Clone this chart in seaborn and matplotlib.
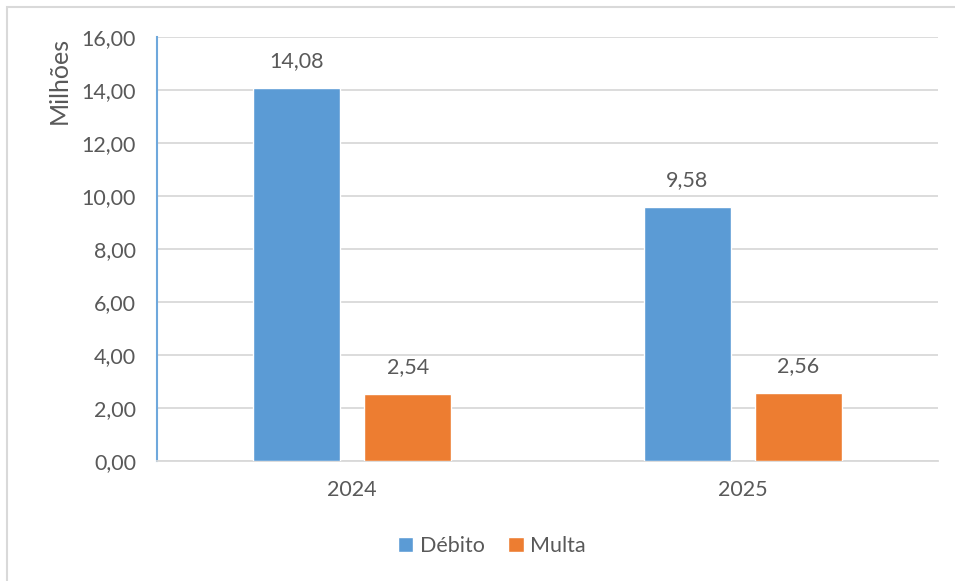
import pandas as pd
import matplotlib.pyplot as plt
import seaborn as sns
from matplotlib.patches import Rectangle

anos = ["2024", "2025"]
debito = [14.08, 9.58]
multa = [2.54, 2.56]
series = ["Débito", "Multa"]
yticks = [0, 2, 4, 6, 8, 10, 12, 14, 16]

df = pd.DataFrame({
    "Ano": anos * 2,
    "Tipo": ["Débito"] * len(anos) + ["Multa"] * len(anos),
    "Valor": debito + multa,
})

sns.set_style("white")
plt.rcParams['font.family'] = ['Lato', 'DejaVu Sans']
txt = "#595959"
fs = 15.5

fig = plt.figure(figsize=(9.55, 5.81), dpi=100)
ax = fig.add_axes([157 / 955, 120 / 581, 781 / 955, 424 / 581])

sns.barplot(data=df, x="Ano", y="Valor", hue="Tipo", hue_order=series,
            palette=["#5B9BD5", "#ED7D31"], width=0.5685, gap=0.216,
            saturation=1, ax=ax, zorder=3)

for c in ax.containers:
    ax.bar_label(c, labels=[f"{v:.2f}".replace(".", ",") for v in c.datavalues],
                 padding=12, fontsize=fs, color=txt)

ax.set_ylim(0, 16)
ax.set_yticks(yticks)
ax.set_yticklabels([f"{v:.2f}".replace(".", ",") for v in yticks])
ax.set_xlim(-0.5, 1.5)
ax.grid(axis="y", color="#D9D9D9", linewidth=1.3, zorder=0)
ax.tick_params(axis="both", length=0, labelsize=fs, labelcolor=txt)
ax.tick_params(axis="y", pad=15)
ax.tick_params(axis="x", pad=14)
ax.set_xlabel("")
ax.set_ylabel("Milhões", fontsize=18, color=txt, labelpad=8, loc="top")

for s in ["top", "right"]:
    ax.spines[s].set_visible(False)
ax.spines["left"].set_color("#6FA8DC")
ax.spines["left"].set_linewidth(1.5)
ax.spines["bottom"].set_color("#D9D9D9")
ax.spines["bottom"].set_linewidth(1.3)

ax.legend(loc="center", bbox_to_anchor=(492 / 955, 35 / 581), bbox_transform=fig.transFigure,
          ncol=2, frameon=False, fontsize=fs, labelcolor=txt, handlelength=0.7,
          handleheight=0.7, handletextpad=0.3, columnspacing=1.1)

fig.patches.append(Rectangle((7 / 955, -0.1), 1.2, (581 - 7) / 581 + 0.1, transform=fig.transFigure,
                             fill=False, edgecolor="#D9D9D9", linewidth=1.5, zorder=0))

fig.savefig("out.png", dpi=100)
